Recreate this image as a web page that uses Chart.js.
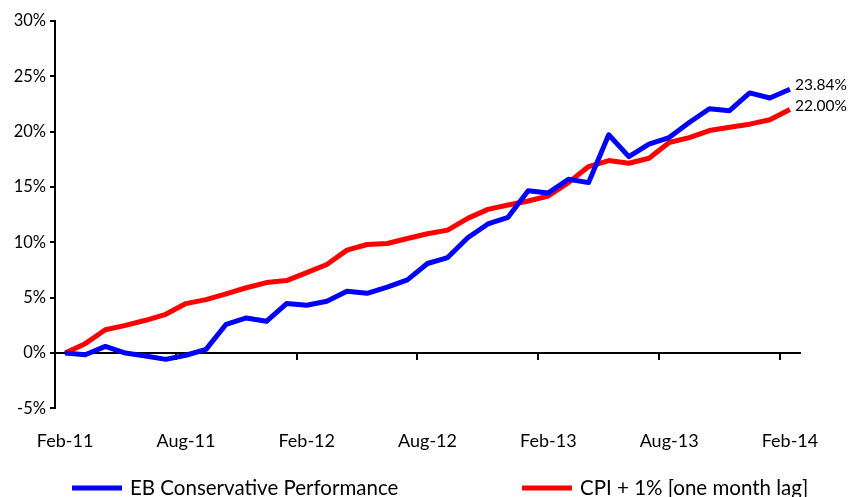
<!DOCTYPE html>
<html>
<head>
<meta charset="utf-8">
<script src="https://cdn.jsdelivr.net/npm/chart.js@4.4.1/dist/chart.umd.min.js"></script>
<style>
  html, body { margin: 0; padding: 0; background: #fff; }
  #wrap { width: 850px; height: 497px; position: relative; }
</style>
</head>
<body>
<div id="wrap"><canvas id="perfChart"></canvas></div>
<script>
// Months, Feb-11 .. Feb-14
const months = [
    'Feb-11', 'Mar-11', 'Apr-11', 'May-11', 'Jun-11', 'Jul-11', 'Aug-11', 'Sep-11', 'Oct-11', 'Nov-11', 'Dec-11', 'Jan-12',
    'Feb-12', 'Mar-12', 'Apr-12', 'May-12', 'Jun-12', 'Jul-12', 'Aug-12', 'Sep-12', 'Oct-12', 'Nov-12', 'Dec-12', 'Jan-13',
    'Feb-13', 'Mar-13', 'Apr-13', 'May-13', 'Jun-13', 'Jul-13', 'Aug-13', 'Sep-13', 'Oct-13', 'Nov-13', 'Dec-13', 'Jan-14',
    'Feb-14'
];

// cumulative % returns
const ebConservative = [
    0, -0.15, 0.6, 0, -0.27, -0.57, -0.2, 0.33, 2.6, 3.17, 2.87, 4.47,
    4.32, 4.68, 5.59, 5.4, 5.95, 6.61, 8.09, 8.63, 10.42, 11.66, 12.26, 14.67,
    14.47, 15.7, 15.4, 19.72, 17.75, 18.87, 19.47, 20.83, 22.07, 21.9, 23.5, 23.04,
    23.84
];
const cpiPlusOne = [
    0, 0.85, 2.1, 2.5, 2.96, 3.5, 4.47, 4.83, 5.35, 5.9, 6.37, 6.55,
    7.27, 8.0, 9.3, 9.81, 9.9, 10.35, 10.78, 11.11, 12.17, 12.98, 13.38, 13.74,
    14.19, 15.4, 16.85, 17.39, 17.15, 17.6, 19.02, 19.47, 20.1, 20.4, 20.68, 21.08,
    22.0
];

const yMin = -5;
const yMax = 30;
const yStep = 5;
const labelEvery = 6;

const fontFamily = 'Lato, "Open Sans", sans-serif';

// value labels at the end of each line
const endLabels = {
    id: 'endLabels',
    afterDatasetsDraw(chart) {
        const ctx = chart.ctx;
        ctx.save();
        ctx.font = '15.5px ' + fontFamily;
        ctx.fillStyle = '#000';
        ctx.textAlign = 'left';
        ctx.textBaseline = 'middle';
        chart.data.datasets.forEach((ds, i) => {
            const meta = chart.getDatasetMeta(i);
            const pt = meta.data[meta.data.length - 1];
            const val = ds.data[ds.data.length - 1];
            ctx.fillText(val.toFixed(2) + '%', pt.x + 5, pt.y - 4);
        });
        ctx.restore();
    }
};

// legend spread across the bottom like the original
const wideLegend = {
    id: 'wideLegend',
    afterDraw(chart) {
        const ctx = chart.ctx;
        const area = chart.chartArea;
        const y = chart.height - 9;
        const starts = [area.left + 17, area.left + 467];
        ctx.save();
        ctx.font = '20.5px ' + fontFamily;
        ctx.textBaseline = 'middle';
        ctx.textAlign = 'left';
        chart.data.datasets.forEach((ds, i) => {
            const x = starts[i];
            ctx.strokeStyle = ds.borderColor;
            ctx.lineWidth = 5;
            ctx.beginPath();
            ctx.moveTo(x, y);
            ctx.lineTo(x + 50, y);
            ctx.stroke();
            ctx.fillStyle = '#000';
            ctx.fillText(ds.label, x + 58, y);
        });
        ctx.restore();
    }
};

const ctx = document.getElementById('perfChart').getContext('2d');
const chart = new Chart(ctx, {
    type: 'line',
    data: {
        labels: months,
        datasets: [{
            label: 'EB Conservative Performance',
            data: ebConservative,
            borderColor: '#0000ff',
            backgroundColor: '#0000ff',
            borderWidth: 5,
            pointRadius: 0,
            tension: 0,
            borderJoinStyle: 'round'
        }, {
            label: 'CPI + 1% [one month lag]',
            data: cpiPlusOne,
            borderColor: '#ff0000',
            backgroundColor: '#ff0000',
            borderWidth: 5,
            pointRadius: 0,
            tension: 0,
            borderJoinStyle: 'round'
        }]
    },
    options: {
        responsive: true,
        maintainAspectRatio: false,
        animation: false,
        layout: {
            padding: { top: 21, right: 50, bottom: 31, left: 0 }
        },
        plugins: {
            legend: { display: false },
            tooltip: { enabled: false }
        },
        scales: {
            x: {
                type: 'category',
                position: { y: 0 },
                offset: true,
                border: { display: true, color: '#000', width: 2 },
                grid: {
                    offset: true,
                    drawOnChartArea: false,
                    drawTicks: true,
                    tickLength: 6,
                    lineWidth: 2,
                    color: c => (c.index % labelEvery === 0 ? '#000' : 'rgba(0,0,0,0)')
                },
                ticks: { display: false },
                afterFit: s => { s.height = 0; }
            },
            x2: {
                type: 'category',
                position: 'bottom',
                offset: true,
                border: { display: false },
                grid: { display: false },
                ticks: {
                    autoSkip: false,
                    maxRotation: 0,
                    padding: 14,
                    color: '#000',
                    font: { family: fontFamily, size: 18 },
                    callback: function(value, index) {
                        return index % labelEvery === 0 ? this.getLabelForValue(value) : '';
                    }
                }
            },
            y: {
                min: yMin,
                max: yMax,
                border: { display: true, color: '#000', width: 2 },
                grid: {
                    drawOnChartArea: false,
                    drawTicks: true,
                    tickLength: 5,
                    lineWidth: 2,
                    color: '#000'
                },
                ticks: {
                    stepSize: yStep,
                    padding: 4,
                    color: '#000',
                    font: { family: fontFamily, size: 16.5 },
                    callback: v => v + '%'
                },
                afterFit: s => { s.width = 55; }
            }
        }
    },
    plugins: [endLabels, wideLegend]
});
</script>
</body>
</html>
